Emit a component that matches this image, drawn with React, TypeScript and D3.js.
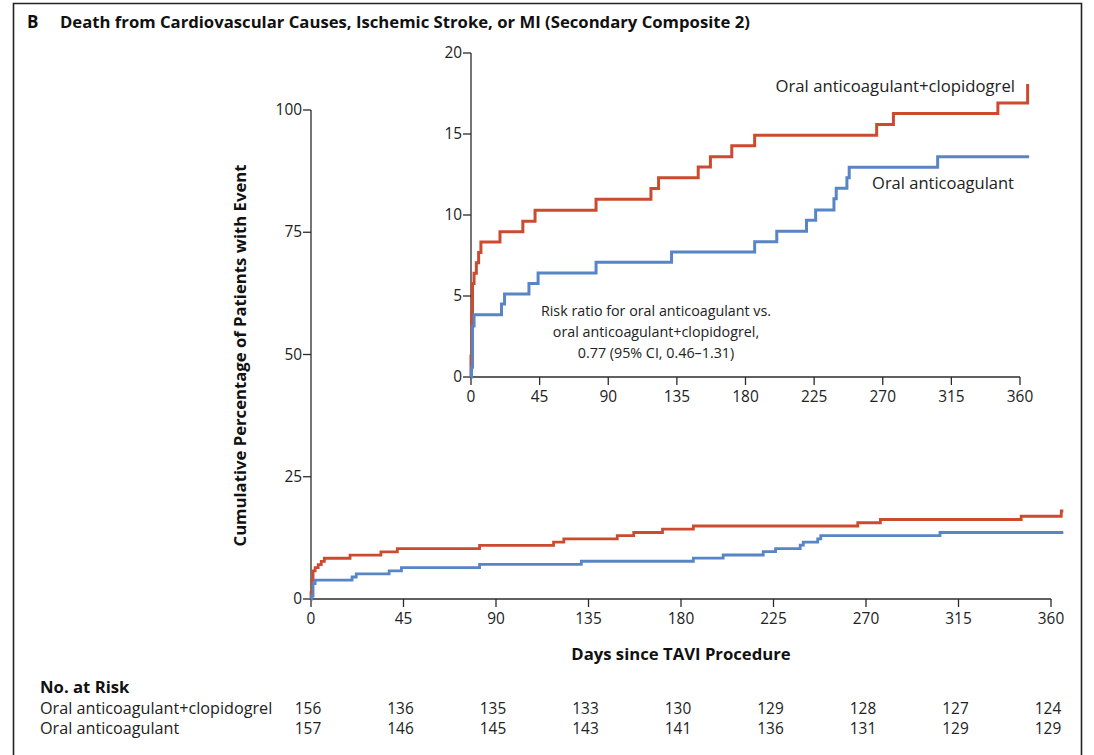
import React from "react";
import * as d3 from "d3";

const redDays = [0, 0, 0.5, 1, 2, 3.5, 5, 6.5, 19, 34, 42, 82, 118, 123, 149, 157, 171, 186, 266, 277, 345.5, 365, 366];
const redPct = [0, 1.3, 3.85, 5.77, 6.41, 7.05, 7.69, 8.33, 8.97, 9.62, 10.3, 10.97, 11.64, 12.3, 12.96, 13.6, 14.27, 14.93, 15.59, 16.26, 16.92, 18.0, 18.0];
const blueDays = [0, 0.3, 1, 2, 20, 22, 38, 44, 82, 131.5, 186, 200.5, 220, 226, 238, 239.5, 246.5, 248, 306, 366];
const bluePct = [0, 0.6, 3.15, 3.85, 4.5, 5.13, 5.77, 6.42, 7.08, 7.72, 8.35, 9.0, 9.67, 10.31, 11.0, 11.65, 12.3, 12.94, 13.6, 13.6];

const xTicks = [0, 45, 90, 135, 180, 225, 270, 315, 360];
const mainYTicks = [0, 25, 50, 75, 100];
const insetYTicks = [0, 5, 10, 15, 20];
const riskLabels = ["Oral anticoagulant+clopidogrel", "Oral anticoagulant"];
const riskRed = [156, 136, 135, 133, 130, 129, 128, 127, 124];
const riskBlue = [157, 146, 145, 143, 141, 136, 131, 129, 129];

const RED = "#cc4b2e";
const BLUE = "#5785c6";
const AX = "#2b2b2b";
const FONT = "'Open Sans', sans-serif";

type Pt = [number, number];

export default function App() {
  const red: Pt[] = redDays.map((d, i) => [d, redPct[i]]);
  const blue: Pt[] = blueDays.map((d, i) => [d, bluePct[i]]);

  const mx = d3.scaleLinear().domain([0, 360]).range([311, 1051]);
  const my = d3.scaleLinear().domain([0, 100]).range([599, 110]);
  const ix = d3.scaleLinear().domain([0, 360]).range([471, 1020]);
  const iy = d3.scaleLinear().domain([0, 20]).range([377, 53]);

  const mLine = d3.line<Pt>().x((d) => mx(d[0])).y((d) => my(d[1])).curve(d3.curveStepAfter);
  const iLine = d3.line<Pt>().x((d) => ix(d[0])).y((d) => iy(d[1])).curve(d3.curveStepAfter);

  const tickFont = 15.4;
  const boldFont = 16.7;
  const rowFont = 16.2;

  return (
    <svg width={1094} height={755} style={{ position: "absolute", left: 0, top: 0, background: "#fff" }} fontFamily={FONT}>
      <rect x={0} y={0} width={1094} height={755} fill="#fff" />
      <path d="M13.5,762 L13.5,3.5 L1081.5,3.5 L1081.5,762" fill="none" stroke="#222" strokeWidth={1.6} />
      <text x={27} y={28} fontSize={17} fontWeight={700} fill="#111">B</text>
      <text x={60} y={28} fontSize={boldFont} fontWeight={700} fill="#111">
        Death from Cardiovascular Causes, Ischemic Stroke, or MI (Secondary Composite 2)
      </text>

      {/* main axes */}
      <line x1={mx(0)} x2={mx(360)} y1={my(0)} y2={my(0)} stroke={AX} strokeWidth={1.3} />
      <line x1={mx(0)} x2={mx(0)} y1={my(0)} y2={my(100)} stroke={AX} strokeWidth={1.3} />
      {xTicks.map((t) => (
        <g key={"mx" + t}>
          <line x1={mx(t)} x2={mx(t)} y1={my(0)} y2={my(0) + 8} stroke={AX} strokeWidth={1.3} />
          <text x={mx(t)} y={my(0) + 25} fontSize={tickFont} textAnchor="middle" fill="#222">{t}</text>
        </g>
      ))}
      {mainYTicks.map((t) => (
        <g key={"my" + t}>
          <line x1={mx(0) - 8} x2={mx(0)} y1={my(t)} y2={my(t)} stroke={AX} strokeWidth={1.3} />
          <text x={mx(0) - 9} y={my(t) + 5} fontSize={tickFont} textAnchor="end" fill="#222">{t}</text>
        </g>
      ))}
      <text
        transform={`translate(246,${(my(0) + my(100)) / 2 + 1}) rotate(-90)`}
        fontSize={boldFont}
        fontWeight={700}
        textAnchor="middle"
        fill="#111"
      >
        Cumulative Percentage of Patients with Event
      </text>
      <text x={(mx(0) + mx(360)) / 2} y={660} fontSize={boldFont} fontWeight={700} textAnchor="middle" fill="#111">
        Days since TAVI Procedure
      </text>

      <path d={mLine(red) || ""} fill="none" stroke={RED} strokeWidth={2.8} />
      <path d={mLine(blue) || ""} fill="none" stroke={BLUE} strokeWidth={2.8} />

      {/* inset axes */}
      <line x1={ix(0)} x2={ix(360)} y1={iy(0)} y2={iy(0)} stroke={AX} strokeWidth={1.3} />
      <line x1={ix(0)} x2={ix(0)} y1={iy(0)} y2={iy(20)} stroke={AX} strokeWidth={1.3} />
      {xTicks.map((t) => (
        <g key={"ix" + t}>
          <line x1={ix(t)} x2={ix(t)} y1={iy(0)} y2={iy(0) + 8} stroke={AX} strokeWidth={1.3} />
          <text x={ix(t)} y={iy(0) + 25} fontSize={tickFont} textAnchor="middle" fill="#222">{t}</text>
        </g>
      ))}
      {insetYTicks.map((t) => (
        <g key={"iy" + t}>
          <line x1={ix(0) - 8} x2={ix(0)} y1={iy(t)} y2={iy(t)} stroke={AX} strokeWidth={1.3} />
          <text x={ix(0) - 9} y={iy(t) + 5} fontSize={tickFont} textAnchor="end" fill="#222">{t}</text>
        </g>
      ))}
      <path d={iLine(red) || ""} fill="none" stroke={RED} strokeWidth={3} />
      <path d={iLine(blue) || ""} fill="none" stroke={BLUE} strokeWidth={3} />

      <text x={1015} y={92} fontSize={16.7} textAnchor="end" fill="#222">Oral anticoagulant+clopidogrel</text>
      <text x={1014} y={189} fontSize={16.5} textAnchor="end" fill="#222">Oral anticoagulant</text>
      <text x={656} y={316} fontSize={14.3} textAnchor="middle" fill="#222">Risk ratio for oral anticoagulant vs.</text>
      <text x={656} y={337} fontSize={14.3} textAnchor="middle" fill="#222">oral anticoagulant+clopidogrel,</text>
      <text x={656} y={358} fontSize={14.3} textAnchor="middle" fill="#222">0.77 (95% CI, 0.46–1.31)</text>

      <text x={40} y={693} fontSize={boldFont} fontWeight={700} fill="#111">No. at Risk</text>
      <text x={40} y={714} fontSize={rowFont} fill="#222">{riskLabels[0]}</text>
      <text x={40} y={734} fontSize={rowFont} fill="#222">{riskLabels[1]}</text>
      {xTicks.map((t, i) => (
        <g key={"r" + t}>
          <text x={mx(t) - 3} y={714} fontSize={tickFont} textAnchor="middle" fill="#222">{riskRed[i]}</text>
          <text x={mx(t) - 3} y={734} fontSize={tickFont} textAnchor="middle" fill="#222">{riskBlue[i]}</text>
        </g>
      ))}
    </svg>
  );
}
